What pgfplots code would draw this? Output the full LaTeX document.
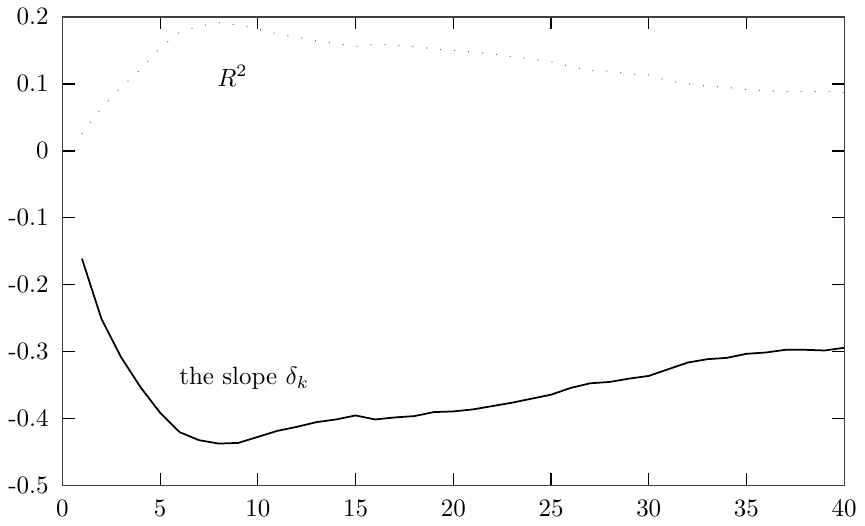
\documentclass[border=0pt]{standalone}
\usepackage{pgfplots}
\pgfplotsset{compat=1.18}

\begin{document}
\begin{tikzpicture}
\begin{axis}[
    scale only axis,
    width=312.8pt, height=187.6pt,
    xmin=0, xmax=40,
    ymin=-0.5, ymax=0.2,
    xtick={0,5,...,40},
    ytick={-0.5,-0.4,-0.3,-0.2,-0.1,0,0.1,0.2},
    yticklabels={-0.5,-0.4,-0.3,-0.2,-0.1,0,0.1,0.2},
    tick align=inside,
    major tick length=5pt,
    tick style={black, line width=0.5pt},
    axis line style={black!75, line width=0.5pt},
    xticklabel style={yshift=-2.5pt},
    yticklabel style={xshift=-2pt},
]
% R^2
\addplot[black!70, line width=0.5pt, line cap=round,
         dash pattern=on 0pt off 5.6pt] coordinates {
    (1,0.026) (2,0.064) (3,0.0945) (4,0.122) (5,0.154) (6,0.177)
    (7,0.186) (8,0.1915) (9,0.188) (10,0.182) (11,0.1746) (12,0.170)
    (13,0.164) (14,0.160) (15,0.156) (16,0.159) (17,0.158) (18,0.156)
    (19,0.152) (20,0.150) (21,0.1475) (22,0.145) (23,0.141) (24,0.137)
    (25,0.133) (26,0.126) (27,0.120) (28,0.119) (29,0.115) (30,0.1134)
    (31,0.1045) (32,0.100) (33,0.0966) (34,0.095) (35,0.0915) (36,0.090)
    (37,0.0885) (38,0.0885) (39,0.089) (40,0.087)
};
% slope delta_k
\addplot[black, line width=0.7pt] coordinates {
    (1,-0.161) (2,-0.251) (3,-0.308) (4,-0.353) (5,-0.391) (6,-0.420)
    (7,-0.432) (8,-0.437) (9,-0.436) (10,-0.427) (11,-0.418) (12,-0.412)
    (13,-0.405) (14,-0.401) (15,-0.395) (16,-0.401) (17,-0.398) (18,-0.396)
    (19,-0.390) (20,-0.389) (21,-0.386) (22,-0.381) (23,-0.376) (24,-0.370)
    (25,-0.364) (26,-0.354) (27,-0.347) (28,-0.345) (29,-0.340) (30,-0.336)
    (31,-0.326) (32,-0.316) (33,-0.311) (34,-0.309) (35,-0.303) (36,-0.301)
    (37,-0.297) (38,-0.297) (39,-0.298) (40,-0.294)
};
\node at (axis cs:8.7,0.112) {$R^2$};
\node at (axis cs:9.3,-0.340) {the slope $\delta_k$};
\end{axis}
\end{tikzpicture}
\end{document}
